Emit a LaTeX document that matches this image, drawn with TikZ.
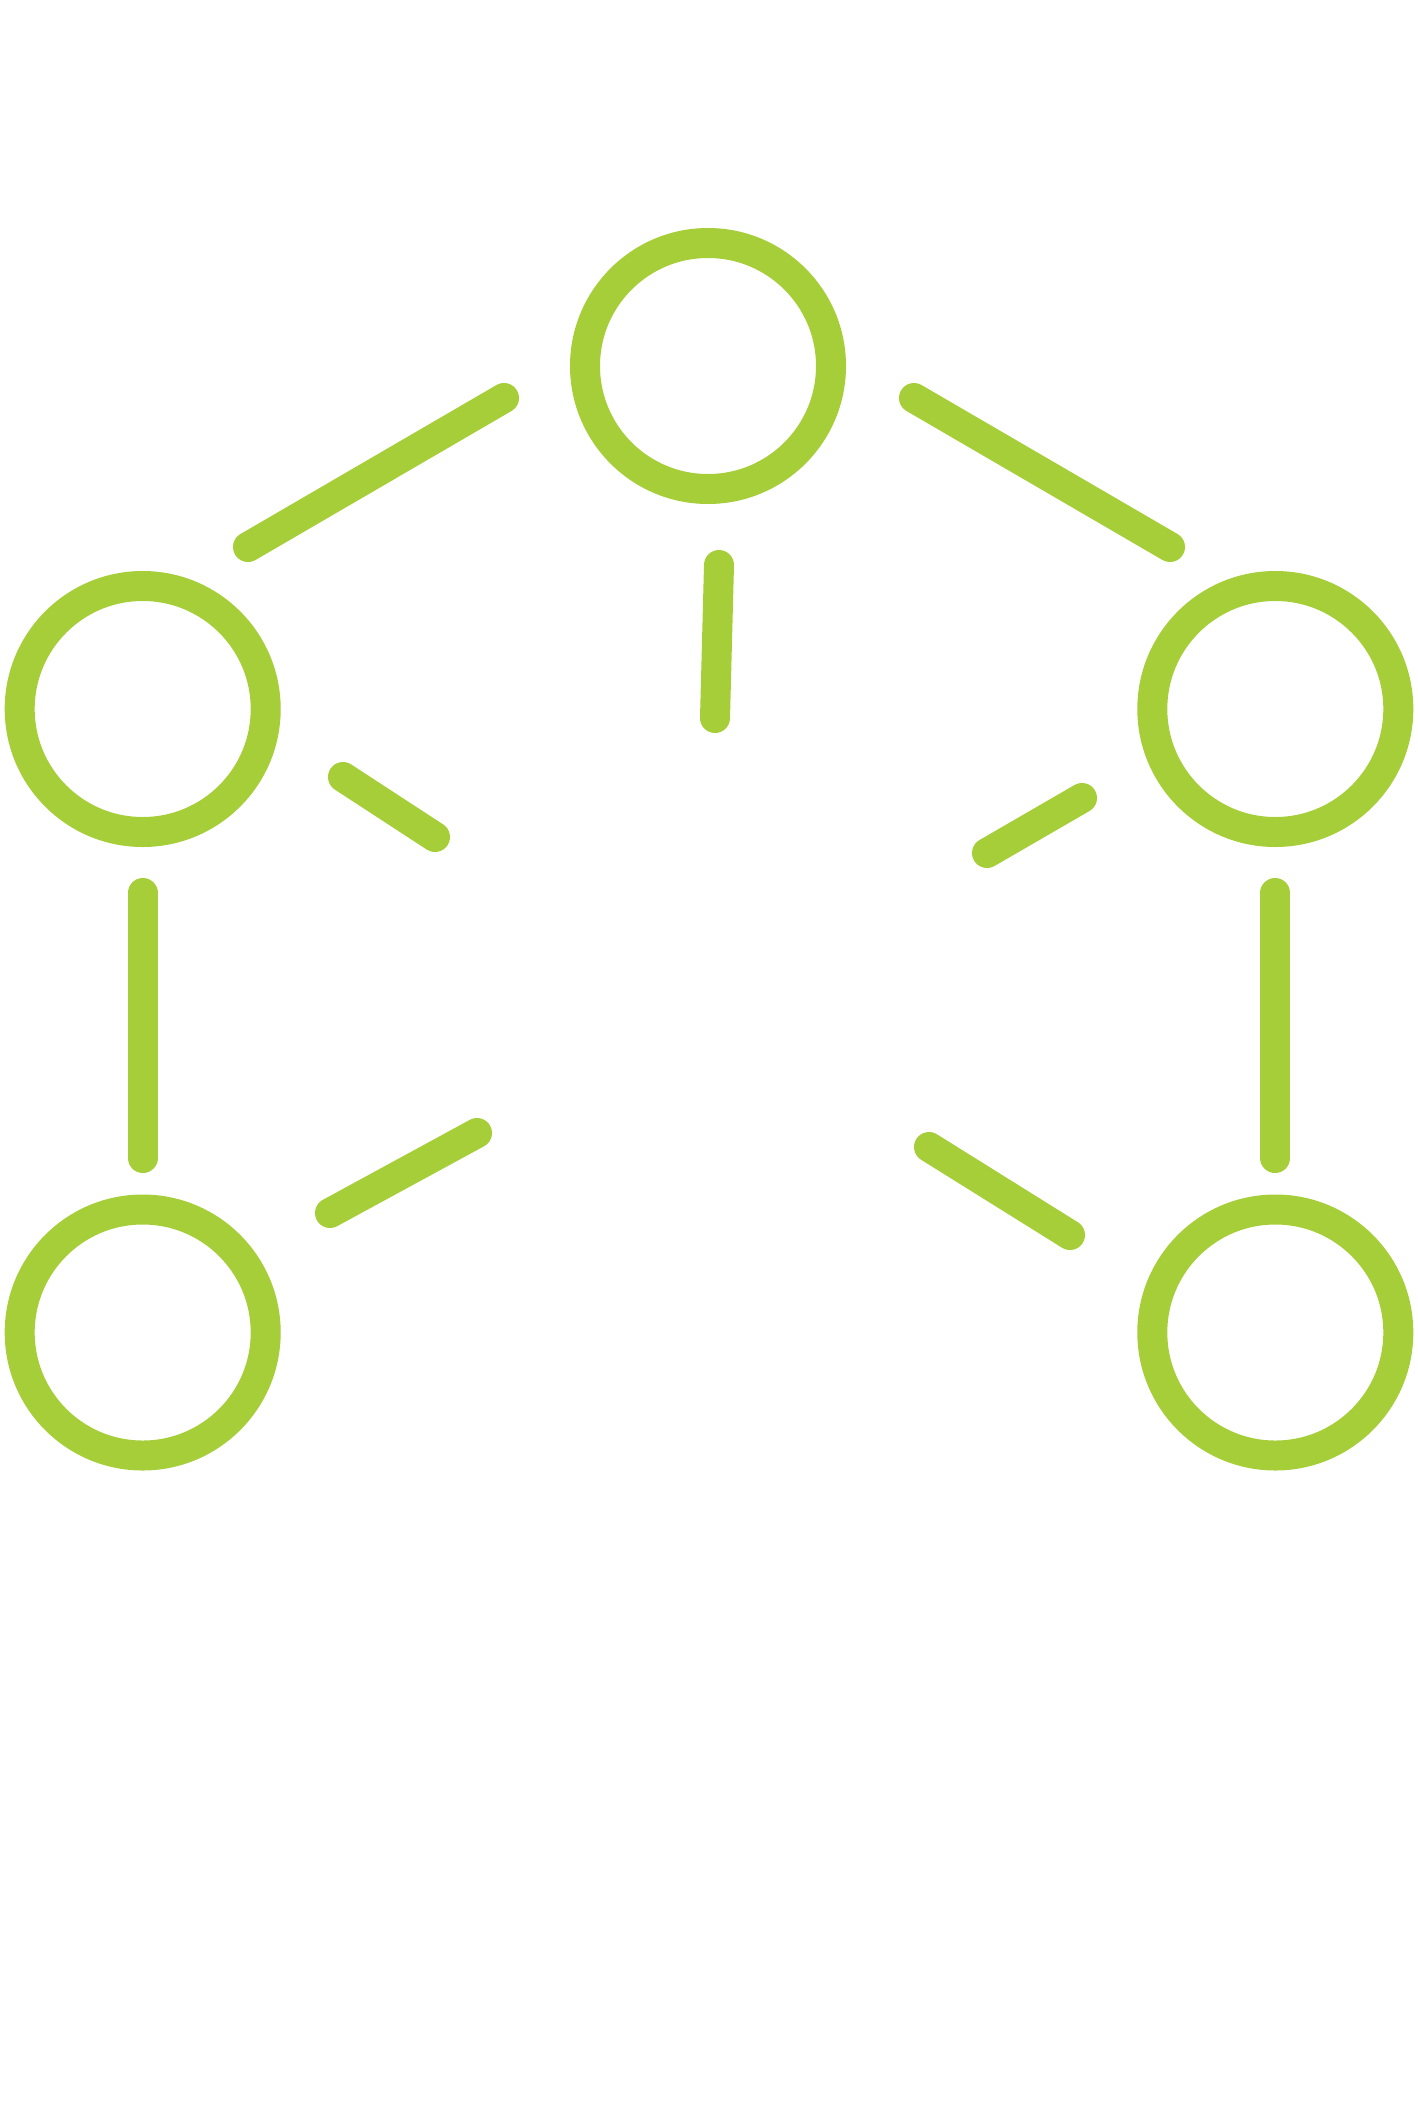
\documentclass[tikz,border=0pt]{standalone}
\definecolor{leaf}{RGB}{166,206,57}
\tikzset{
  hub/.style={circle,draw=leaf,line width=30pt,minimum size=246pt,inner sep=0pt},
  link/.style={draw=leaf,line width=30pt,line cap=round}
}

\begin{document}
\begin{tikzpicture}[x=1pt,y=-1pt]
        \useasboundingbox (0,0) rectangle (1418,2114);

        \draw[link] (504,398) -- (248,547);
        \draw[link] (914,398) -- (1170,547);
        \draw[link] (719,565) -- (715,718);
        \draw[link] (343,777) -- (435,837);
        \draw[link] (1082,798) -- (987,853);
        \draw[link] (142.7,893) -- (142.7,1158);
        \draw[link] (1275.3,893) -- (1275.3,1158);
        \draw[link] (477,1133) -- (330,1213);
        \draw[link] (929,1147) -- (1070,1235);

        \node[hub] (top) at (708,366) {};
        \node[hub] (midleft) at (142.7,709) {};
        \node[hub] (midright) at (1275.3,709) {};
        \node[hub] (lowleft) at (142.7,1332.5) {};
        \node[hub] (lowright) at (1275.3,1332.5) {};

      \end{tikzpicture}
\end{document}
